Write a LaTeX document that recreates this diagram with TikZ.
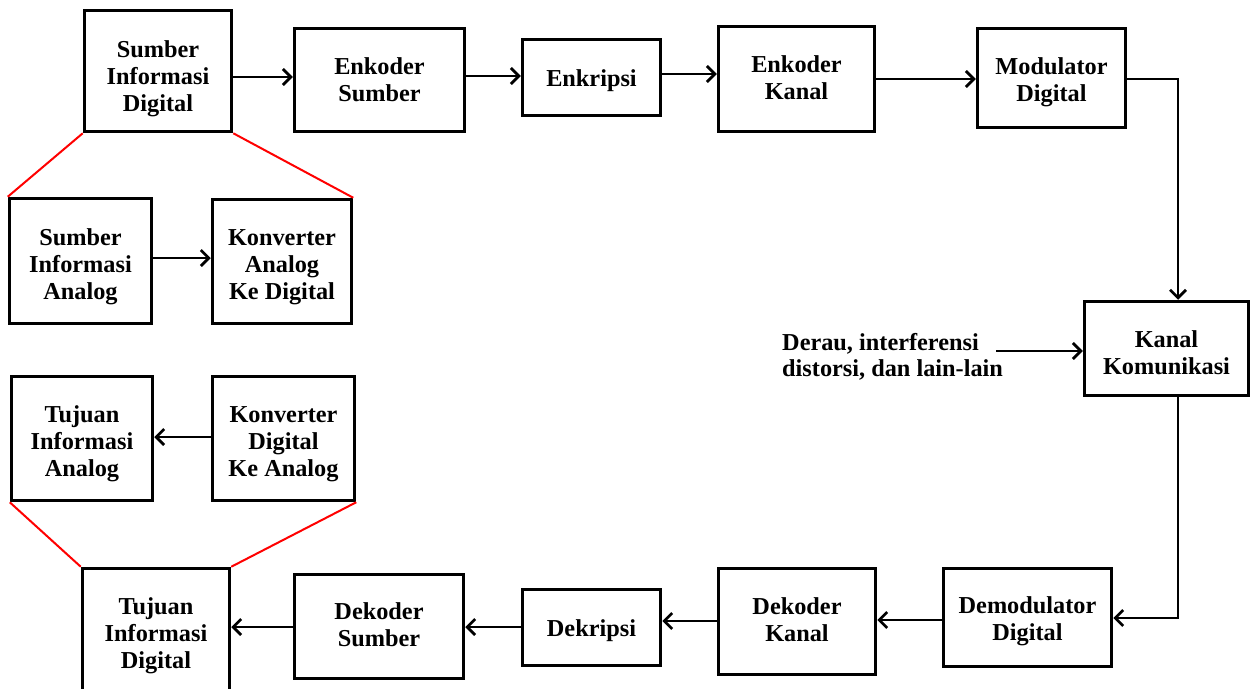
\documentclass[tikz,border=0pt]{standalone}
\usepackage{fontspec}
\setmainfont{Liberation Serif}
\usetikzlibrary{arrows.meta}
% #1 = number of lines minus one, #2 = downward offset (pt), #3 = text
\newcommand{\bxtext}[3]{\raisebox{\dimexpr 13.5pt*#1-7.8pt-#2pt\relax}[0pt][0pt]{\begin{tabular}[t]{@{}c@{}}#3\end{tabular}}}
\tikzset{
  blk/.style={draw=black, line width=3.5pt, inner sep=0pt,
    font=\bfseries\fontsize{24.3}{27}\selectfont},
  arr/.style={draw=black, line width=2.7pt,
    -{Straight Barb[length=8pt,width=16pt,line width=2.7pt]}},
  redline/.style={draw=red, line width=2pt},
  note/.style={align=left, inner sep=0pt, anchor=west,
    font=\bfseries\fontsize{24.3}{26}\selectfont}
}
\begin{document}
\begin{tikzpicture}[x=1pt,y=-1pt]
\useasboundingbox (0,0) rectangle (1252,688);
% top row
\node[blk, minimum width=147pt, minimum height=121pt] (SID) at (158,71) {\bxtext{2}{6}{Sumber\\Informasi\\Digital}};
\node[blk, minimum width=170pt, minimum height=103pt] (ES) at (379.5,80) {\bxtext{1}{0}{Enkoder\\Sumber}};
\node[blk, minimum width=138pt, minimum height=76pt] (ENK) at (591.5,77.5) {\bxtext{0}{1}{Enkripsi}};
\node[blk, minimum width=156pt, minimum height=105pt] (EK) at (796.5,79) {\bxtext{1}{-1}{Enkoder\\Kanal}};
\node[blk, minimum width=148pt, minimum height=99pt] (MD) at (1051.5,78) {\bxtext{1}{2}{Modulator\\Digital}};
% analog source
\node[blk, minimum width=142pt, minimum height=125pt] (SIA) at (80.5,261) {\bxtext{2}{4}{Sumber\\Informasi\\Analog}};
\node[blk, minimum width=139pt, minimum height=124pt] (KAD) at (282,261.5) {\bxtext{2}{3}{Konverter\\Analog\\Ke Digital}};
% channel
\node[blk, minimum width=164pt, minimum height=94pt] (KK) at (1166.5,348.5) {\bxtext{1}{5}{Kanal\\Komunikasi}};
\node[note] (NZ) at (782,357) {Derau, interferensi\\distorsi, dan lain-lain};
% analog destination
\node[blk, minimum width=141pt, minimum height=124pt] (TIA) at (82,438.5) {\bxtext{2}{3.5}{Tujuan\\Informasi\\Analog}};
\node[blk, minimum width=142pt, minimum height=124pt] (KDA) at (283.5,438.5) {\bxtext{2}{3.5}{Konverter\\Digital\\Ke Analog}};
% bottom row
\node[blk, minimum width=147pt, minimum height=130pt] (TID) at (156,633.5) {\bxtext{2}{0.5}{Tujuan\\Informasi\\Digital}};
\node[blk, minimum width=169pt, minimum height=104pt] (DS) at (379,626.5) {\bxtext{1}{-1.5}{Dekoder\\Sumber}};
\node[blk, minimum width=138pt, minimum height=76pt] (DEK) at (591.5,627.5) {\bxtext{0}{1}{Dekripsi}};
\node[blk, minimum width=157pt, minimum height=106pt] (DK) at (797,621.5) {\bxtext{1}{-1.5}{Dekoder\\Kanal}};
\node[blk, minimum width=168pt, minimum height=98pt] (DD) at (1027.5,617.5) {\bxtext{1}{1.5}{Demodulator\\Digital}};
% helper coordinates
\coordinate (y1) at (0,77);
\coordinate (y2) at (0,76);
\coordinate (y3) at (0,74);
\coordinate (y4) at (0,79);
\coordinate (mdturn) at (1178,79);
\coordinate (nzs) at (996,351);
\coordinate (kkturn) at (1178,618);
\coordinate (y5) at (0,620);
\coordinate (y6) at (0,621);
\coordinate (y7) at (0,627);
\coordinate (y8) at (0,258);
\coordinate (y9) at (0,437);
% arrows
\draw[arr] (SID.east |- y1) -- (ES.west |- y1);
\draw[arr] (ES.east |- y2) -- (ENK.west |- y2);
\draw[arr] (ENK.east |- y3) -- (EK.west |- y3);
\draw[arr] (EK.east |- y4) -- (MD.west |- y4);
\draw[arr] (MD.east |- mdturn) -- (mdturn) -- (mdturn |- KK.north);
\draw[arr] (nzs) -- (KK.west |- nzs);
\draw[arr] (KK.south -| kkturn) -- (kkturn) -- (DD.east |- kkturn);
\draw[arr] (DD.west |- y5) -- (DK.east |- y5);
\draw[arr] (DK.west |- y6) -- (DEK.east |- y6);
\draw[arr] (DEK.west |- y7) -- (DS.east |- y7);
\draw[arr] (DS.west |- y7) -- (TID.east |- y7);
\draw[arr] (SIA.east |- y8) -- (KAD.west |- y8);
\draw[arr] (KDA.west |- y9) -- (TIA.east |- y9);
% red expansion lines
\draw[redline] (SID.south west) -- (SIA.north west);
\draw[redline] (SID.south east) -- (KAD.north east);
\draw[redline] (TIA.south west) -- (TID.north west);
\draw[redline] (KDA.south east) -- (TID.north east);
\end{tikzpicture}
\end{document}
